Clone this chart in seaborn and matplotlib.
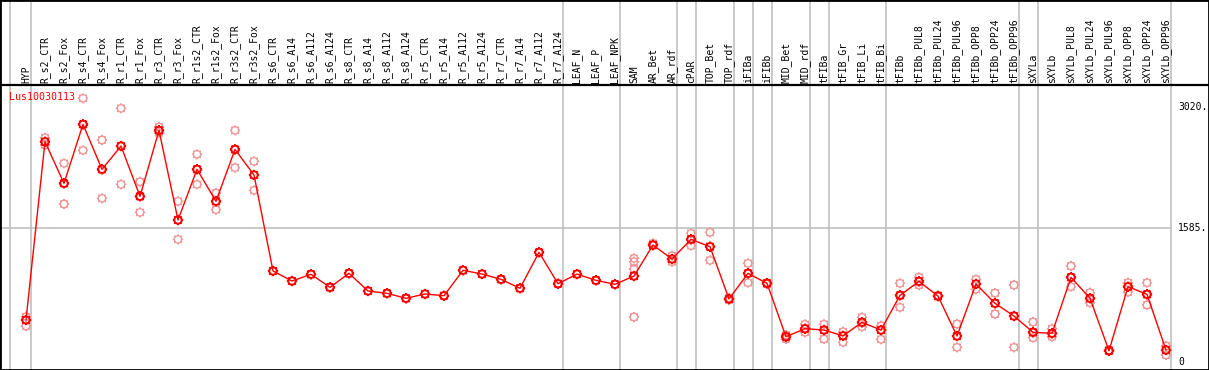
import numpy as np
import pandas as pd
import matplotlib
matplotlib.use("Agg")
import matplotlib.pyplot as plt
import seaborn as sns
from matplotlib.path import Path

gene = "Lus10030113"
categories = ["HYP", "R_s2_CTR", "R_s2_Fox", "R_s4_CTR", "R_s4_Fox", "R_r1_CTR", "R_r1_Fox",
              "R_r3_CTR", "R_r3_Fox", "R_r1s2_CTR", "R_r1s2_Fox", "R_r3s2_CTR", "R_r3s2_Fox",
              "R_s6_CTR", "R_s6_A14", "R_s6_A112", "R_s6_A124", "R_s8_CTR", "R_s8_A14",
              "R_s8_A112", "R_s8_A124", "R_r5_CTR", "R_r5_A14", "R_r5_A112", "R_r5_A124",
              "R_r7_CTR", "R_r7_A14", "R_r7_A112", "R_r7_A124", "LEAF_N", "LEAF_P", "LEAF_NPK",
              "SAM", "AR_Bet", "AR_rdf", "cPAR", "TOP_Bet", "TOP_rdf", "iFIBa", "iFIBb",
              "MID_Bet", "MID_rdf", "tFIBa", "tFIB_Gr", "tFIB_Li", "tFIB_Bi", "tFIBb",
              "tFIBb_PUL8", "tFIBb_PUL24", "tFIBb_PUL96", "tFIBb_OPP8", "tFIBb_OPP24",
              "tFIBb_OPP96", "sXYLa", "sXYLb", "sXYLb_PUL8", "sXYLb_PUL24", "sXYLb_PUL96",
              "sXYLb_OPP8", "sXYLb_OPP24", "sXYLb_OPP96"]
means = [498, 2611, 2118, 2817, 2284, 2560, 1964, 2746, 1683, 2284, 1905, 2520, 2217,
         1079, 960, 1040, 885, 1051, 842, 814, 755, 806, 786, 1087, 1043, 980, 874, 1300, 928,
         1042, 968, 921, 1019, 1387, 1221, 1454, 1367, 747, 1051, 933, 300, 395, 379, 310,
         470, 379, 790, 956, 782, 308, 925, 696, 545, 352, 340, 1004, 755, 134, 893, 802, 142]
replicates = [[537, 427], [2659, 2572], [2355, 1873], [3126, 2509], [2632, 1940],
              [3007, 2106], [2137, 1774], [2786, 2718], [1905, 1454], [2462, 2106],
              [2003, 1806], [2746, 2304], [2379, 2035],
              [], [], [], [], [], [], [], [], [], [], [], [], [], [], [], [], [], [], [],
              [1229, 1189, 1102, 533], [1407, 1379], [1260, 1189], [1525, 1379],
              [1537, 1205], [760, 735], [1170, 940], [940, 925], [320, 273], [447, 352],
              [447, 273], [359, 233], [530, 418], [430, 269], [933, 648], [1004, 913],
              [790, 775], [450, 174], [980, 862], [818, 569], [913, 174], [474, 288],
              [395, 300], [1138, 893], [822, 703], [140, 128], [940, 830], [940, 676],
              [190, 83]]
group_last = [0, 28, 31, 34, 35, 37, 38, 39, 41, 42, 45, 52, 53, 60]
ytick_values = [0, 1585, 3020]
ytick_labels = ["0", "1585.", "3020."]

sns.set_style("white")
plt.rcParams["font.family"] = ["DejaVu Sans Mono", "DejaVu Sans"]

W, H = 1209, 370
fig = plt.figure(figsize=(W / 100, H / 100), dpi=100)
ax = fig.add_axes([0, 0, 1, 1])

# pixel calibration helpers (layout only)
x0_px, dx_px = 26.0, 19.0
y0_px, k = 362.0, (362.0 - 228.3) / 1585.0
def xv(px):
    return (px - x0_px) / dx_px
def yv(py):
    return (y0_px - py) / k

ax.set_xlim(xv(0), xv(W))
ax.set_ylim(yv(H), yv(0))

# gene marker: circle with small radial ticks
circ = Path.unit_circle()
segs = []
for a in np.arange(8) * np.pi / 4:
    segs.append(Path([[np.cos(a), np.sin(a)], [1.4 * np.cos(a), 1.4 * np.sin(a)]],
                     [Path.MOVETO, Path.LINETO]))
gear = Path.make_compound_path(circ, *segs)

# grid lines
ax.axvline(-0.82, color="#c0c0c0", lw=1.2, zorder=0)
for g in group_last:
    ax.axvline(g + 0.24, color="#c0c0c0", lw=1.2, zorder=0)
ax.hlines(1585, xv(0), group_last[-1] + 0.24, color="#c0c0c0", lw=1.2, zorder=0)
ax.axhline(yv(85), color="black", lw=1.6, zorder=1)

pos = np.arange(len(categories))
df_mean = pd.DataFrame({"pos": pos, "value": means, "cat": categories})
rep_rows = [(i, v) for i, vals in enumerate(replicates) for v in vals]
df_rep = pd.DataFrame(rep_rows, columns=["pos", "value"])

sns.scatterplot(data=df_rep, x="pos", y="value", marker=gear, s=55,
                facecolor="none", edgecolor="#f09898", linewidth=1.0, ax=ax, zorder=2)
sns.lineplot(data=df_mean, x="pos", y="value", color="red", lw=1.0, estimator=None,
             sort=False, ax=ax, zorder=3)
sns.scatterplot(data=df_mean, x="pos", y="value", marker=gear, s=55,
                facecolor="none", edgecolor="red", linewidth=1.4, ax=ax, zorder=4)

for i, c in enumerate(categories):
    ax.text(i, yv(83), c, rotation=90, ha="center", va="bottom", fontsize=7, color="black")

for v, lab in zip(ytick_values, ytick_labels):
    ax.text(xv(1178), v, lab, ha="left", va="center", fontsize=7, color="black")

ax.text(xv(9), yv(97), gene, ha="left", va="center", fontsize=7.2, color="red")

ax.set_xlabel("")
ax.set_ylabel("")
ax.set_xticks([])
ax.set_yticks([])
for sp in ax.spines.values():
    sp.set_visible(True)
    sp.set_color("black")
    sp.set_linewidth(2)

fig.savefig("out.png", dpi=100)
